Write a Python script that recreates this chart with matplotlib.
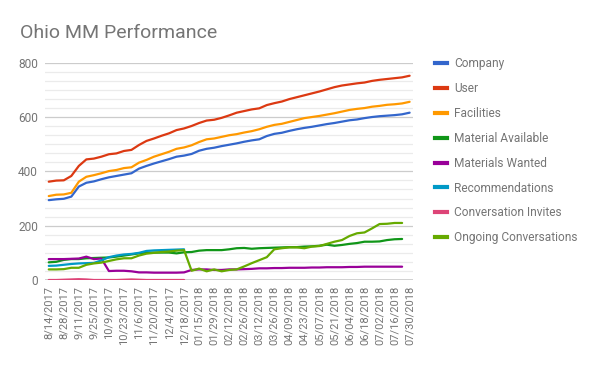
import numpy as np
import matplotlib
matplotlib.use("Agg")
import matplotlib.pyplot as plt
from matplotlib.lines import Line2D
from matplotlib.ticker import MultipleLocator

plt.rcParams['font.family'] = ['Roboto', 'DejaVu Sans']

nan = np.nan

dates = ["8/14/2017", "8/21/2017", "8/28/2017", "9/4/2017", "9/11/2017", "9/18/2017",
         "9/25/2017", "10/2/2017", "10/9/2017", "10/16/2017", "10/23/2017", "10/30/2017",
         "11/6/2017", "11/13/2017", "11/20/2017", "11/27/2017", "12/4/2017", "12/11/2017",
         "12/18/2017", "01/08/2018", "01/15/2018", "01/22/2018", "01/29/2018", "02/05/2018",
         "02/12/2018", "02/19/2018", "02/26/2018", "03/05/2018", "03/12/2018", "03/19/2018",
         "03/26/2018", "04/02/2018", "04/09/2018", "04/16/2018", "04/23/2018", "04/30/2018",
         "05/07/2018", "05/14/2018", "05/21/2018", "05/28/2018", "06/04/2018", "06/11/2018",
         "06/18/2018", "06/25/2018", "07/02/2018", "07/09/2018", "07/16/2018", "07/23/2018",
         "07/30/2018"]

company = [294, 297, 299, 307, 344, 358, 363, 371, 378, 383, 388, 393, 410, 420, 429, 437,
           445, 454, 458, 464, 476, 483, 487, 493, 498, 503, 509, 514, 518, 530, 538, 542,
           549, 555, 560, 564, 569, 574, 578, 583, 588, 591, 596, 600, 603, 605, 607, 610, 616]

user = [362, 366, 367, 383, 420, 444, 447, 454, 463, 466, 475, 479, 497, 512, 521, 531,
        540, 552, 558, 567, 578, 587, 590, 597, 606, 616, 622, 628, 632, 644, 651, 657,
        666, 673, 680, 687, 694, 702, 710, 716, 720, 724, 727, 733, 737, 740, 743, 746, 752]

facilities = [309, 314, 315, 321, 362, 380, 386, 393, 401, 405, 412, 415, 432, 442, 454, 463,
              472, 483, 488, 496, 508, 518, 521, 527, 533, 537, 543, 548, 555, 564, 571, 575,
              582, 589, 596, 600, 604, 609, 614, 620, 626, 630, 633, 638, 641, 645, 647, 650, 656]

material_available = [65, 67, 74, 77, 77, 80, 81, 82, 83, 86, 90, 94, 98, 101, 101, 101,
                      101, 98, 102, 103, 108, 110, 110, 110, 113, 117, 118, 115, 117, 118, 119, 120,
                      121, 121, 123, 124, 126, 130, 126, 129, 133, 136, 141, 141, 142, 147, 150, 151, nan]

materials_wanted = [77, 77, 77, 78, 79, 86, 77, 79, 33, 34, 34, 32, 28, 28, 27, 27,
                    27, 27, 28, 37, 39, 39, 37, 37, 39, 39, 40, 41, 43, 43, 44, 44,
                    45, 45, 45, 46, 46, 47, 47, 47, 48, 48, 49, 49, 49, 49, 49, 49, nan]

recommendations = [52, 53, 56, 59, 61, 62, 63, 72, 84, 90, 94, 96, 100, 107, 109, 110,
                   111, 112, 113] + [nan] * 30

conversation_invites = [0, 0, 1, 2, 3, 2, 0, 0, 0, 0, 1, 2, 1, 0, 0, 0,
                        0, 0, 0] + [nan] * 30

ongoing_conversations = [39, 39, 40, 45, 45, 56, 61, 64, 70, 76, 80, 80, 90, 97, 100, 103,
                         105, 108, 110, 34, 42, 32, 39, 32, 37, 39, 50, 62, 73, 84, 113, 117,
                         120, 120, 117, 123, 125, 133, 141, 147, 162, 172, 175, 190, 206, 207, 210, 210, nan]

series = [
    ("Company", company, "#3366cc"),
    ("User", user, "#dc3912"),
    ("Facilities", facilities, "#ff9900"),
    ("Material Available", material_available, "#109618"),
    ("Materials Wanted", materials_wanted, "#990099"),
    ("Recommendations", recommendations, "#0099c6"),
    ("Conversation Invites", conversation_invites, "#dd4477"),
    ("Ongoing Conversations", ongoing_conversations, "#66aa00"),
]

TXT = "#757575"

fig = plt.figure(figsize=(6.0, 3.71), dpi=100)
ax = fig.add_axes([45 / 600, (371 - 280) / 371, (413 - 45) / 600, (280 - 62.7) / 371])

x = np.arange(len(dates))
ax.axhline(0, color="#333333", lw=1.0, zorder=1)
for name, vals, col in series:
    ax.plot(x, np.array(vals, dtype=float), color=col, lw=1.6, zorder=3,
            solid_joinstyle="round", solid_capstyle="round")

ax.set_ylim(0, 800)
ax.set_xlim(-0.5, 48.45)
ax.yaxis.set_major_locator(MultipleLocator(200))
ax.yaxis.set_minor_locator(MultipleLocator(200 / 6))
ax.grid(True, which="major", axis="y", color="#cccccc", lw=0.9, zorder=0)
ax.grid(True, which="minor", axis="y", color="#ebebeb", lw=0.9, zorder=0)
ax.set_axisbelow(True)

ax.set_xticks(x[::2])
ax.set_xticklabels(dates[::2], rotation=90, fontsize=8, color=TXT)
ax.tick_params(axis="x", length=0, pad=4)
ax.tick_params(axis="y", which="both", length=0, pad=5, labelsize=8.6, labelcolor=TXT)
for s in ax.spines.values():
    s.set_visible(False)

fig.text(20 / 600, (371 - 37.5) / 371, "Ohio MM Performance", fontsize=14,
         color=TXT, va="baseline", ha="left")

handles = [Line2D([0], [0], color=c, lw=3) for _, _, c in series]
labels = [n for n, _, _ in series]
leg = fig.legend(handles, labels, loc="upper left",
                 bbox_to_anchor=(435 / 600, (371 - 57.5) / 371),
                 frameon=False, fontsize=8.6, handlelength=1.0, handletextpad=0.6,
                 labelspacing=0.99, borderaxespad=0, borderpad=0)
for t in leg.get_texts():
    t.set_color(TXT)

fig.savefig("out.png", dpi=100)
